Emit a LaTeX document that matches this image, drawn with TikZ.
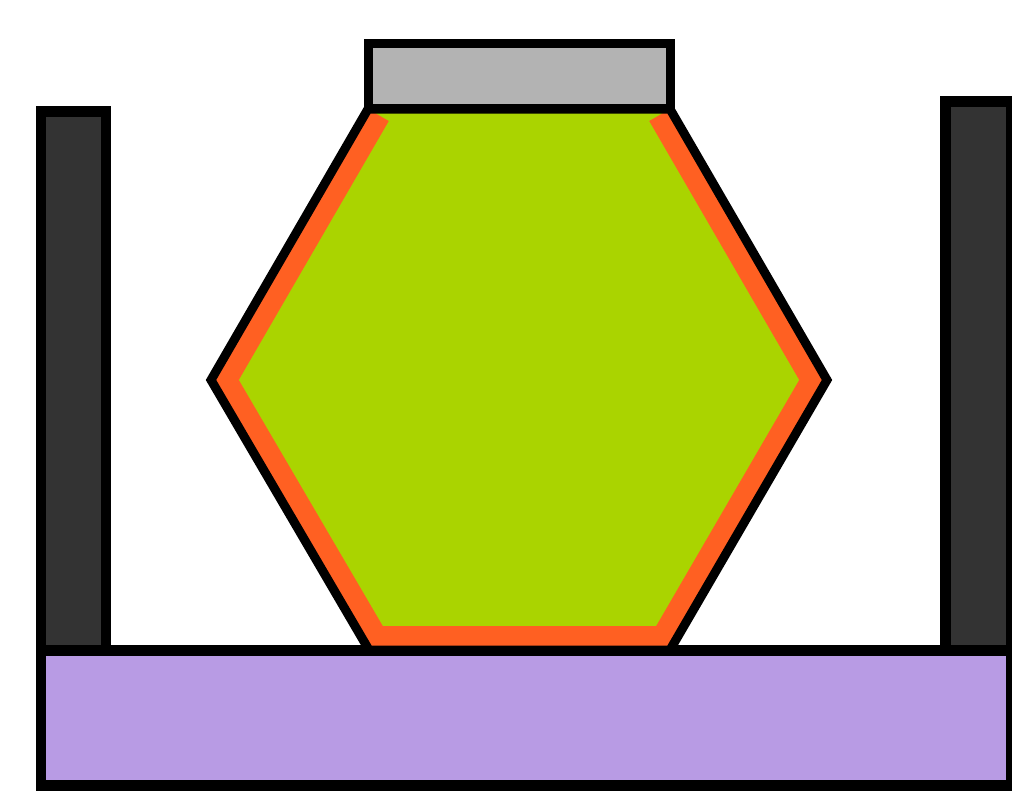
\documentclass[tikz,border=0pt]{standalone}
\usepackage{xcolor}
\usepackage{tikz}
\usetikzlibrary{calc}
\definecolor{postgrey}{HTML}{333333}
\definecolor{capgrey}{HTML}{B3B3B3}
\definecolor{lime}{HTML}{AAD400}
\definecolor{rim}{HTML}{FF6022}
\definecolor{lilac}{HTML}{B89BE4}
\tikzset{
  post/.style={draw=black, fill=postgrey, line width=0.22cm, line join=miter},
  basebox/.style={draw=black, fill=lilac, line width=0.22cm, line join=miter},
  capbox/.style={draw=black, fill=capgrey, line width=0.18cm, line join=miter},
  hexbody/.style={fill=lime},
  hexrim/.style={draw=rim, line width=0.96cm, line cap=butt, line join=miter},
  hexline/.style={draw=black, line width=0.18cm, line join=miter},
}

\begin{document}
\begin{tikzpicture}[x=0.02cm, y=-0.02cm]
    \useasboundingbox (0,0) rectangle (1012,792);
    % hexagon corners
    \coordinate (tl) at (368,109);
    \coordinate (tr) at (670,109);
    \coordinate (rr) at (827,380);
    \coordinate (br) at (670,650);
    \coordinate (bl) at (369,650);
    \coordinate (ll) at (211,380);
    % side posts and base
    \draw[post] (41,111) rectangle (106,650);
    \draw[post] (945,101) rectangle (1011,650);
    \draw[basebox] (41,650) rectangle (1011,785);
    % body with the orange rim inside
    \fill[hexbody] (tl) -- (tr) -- (rr) -- (br) -- (bl) -- (ll) -- cycle;
    \begin{scope}
      \clip (tl) -- (tr) -- (rr) -- (br) -- (bl) -- (ll) -- cycle;
      \draw[hexrim] (tl) -- (ll) -- (bl) -- (br) -- (rr) -- (tr);
    \end{scope}
    \draw[hexline] (tl) -- (tr) -- (rr) -- (br) -- (bl) -- (ll) -- cycle;
    % cap on top
    \draw[capbox] (368,43.5) rectangle (670,108.5);
\end{tikzpicture}
\end{document}
